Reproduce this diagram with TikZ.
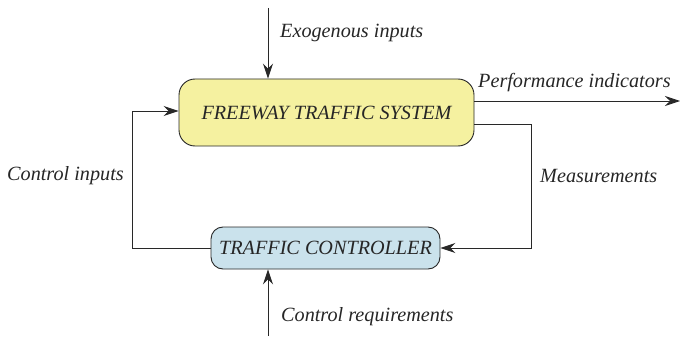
\documentclass[tikz,border=0pt]{standalone}
\usepackage{fontspec}
\setmainfont{Liberation Serif}
\usetikzlibrary{arrows.meta}
\definecolor{sysfill}{RGB}{245,241,160}
\definecolor{ctrlfill}{RGB}{202,226,236}
\definecolor{linegray}{RGB}{40,40,40}
\tikzset{
  blockbox/.style={draw=linegray, line width=0.9pt, rounded corners=16pt, inner sep=0pt,
    font=\itshape\fontsize{20.2}{22}\selectfont, text=black!85},
  flow/.style={draw=linegray, line width=0.9pt, -{Stealth[length=15pt,width=10pt,inset=5pt]}},
  lbl/.style={font=\itshape\fontsize{20.2}{22}\selectfont, text=black!85, inner sep=0pt}
}
\begin{document}
\begin{tikzpicture}[x=1pt,y=-1pt]
\useasboundingbox (0,0) rectangle (680,337);
% plant and controller blocks
\node[blockbox, fill=sysfill, minimum width=295pt, minimum height=67pt] (sys) at (326.5,112.5) {FREEWAY TRAFFIC SYSTEM};
\node[blockbox, fill=ctrlfill, rounded corners=12pt, minimum width=229pt, minimum height=42pt] (ctrl) at (325.5,248) {TRAFFIC CONTROLLER};
% free ends
\coordinate (exo) at (268,8);
\coordinate (perf) at (680,101);
\coordinate (req) at (268,336);
\coordinate (mR) at (531,124);
\coordinate (cL) at (132,111);
% connectors
\draw[flow] (exo) -- (exo |- sys.north);
\draw[flow] (sys.east |- perf) -- (perf);
\draw[flow] (sys.east |- mR) -- (mR) |- (ctrl.east);
\draw[flow] (ctrl.west) -| (cL) -- (cL -| sys.west);
\draw[flow] (req) -- (req |- ctrl.south);
% labels
\node[lbl, anchor=west] (lexo) at (280,33) {Exogenous inputs};
\node[lbl, anchor=west] (lperf) at (478,83) {Performance indicators};
\node[lbl, anchor=west] (lmeas) at (540,176) {Measurements};
\node[lbl, anchor=west] (lcin) at (7,176) {Control inputs};
\node[lbl, anchor=west] (lreq) at (281,317) {Control requirements};
\end{tikzpicture}
\end{document}
